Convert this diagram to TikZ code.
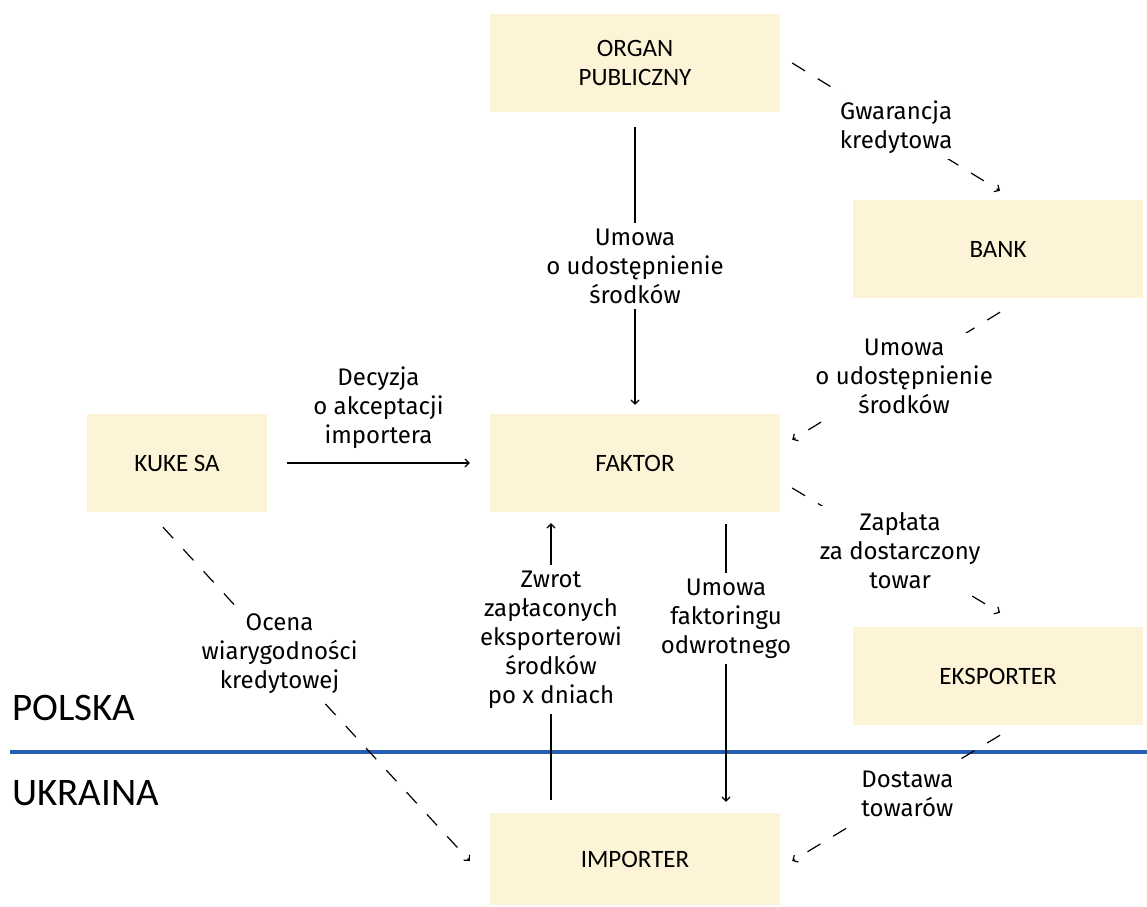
\documentclass[tikz,border=0pt]{standalone}
\usepackage{fontspec}
\usetikzlibrary{arrows.meta}
\newfontfamily\lblfont{Fira Sans}
\newfontfamily\boxfont{Carlito}
\definecolor{boxfill}{HTML}{FDF4D8}
\definecolor{borderblue}{HTML}{285DB4}
\begin{document}
\begin{tikzpicture}[
        x=1pt, y=-1pt,
        box/.style={
            fill=boxfill,
            minimum width=290pt,
            minimum height=98pt,
            align=center,
            font=\boxfont\fontsize{25}{29}\selectfont
        },
        lbl/.style={
            fill=white,
            align=center,
            inner sep=6pt,
            font=\lblfont\fontsize{24}{29}\selectfont
        },
        country/.style={
            anchor=west,
            inner sep=0pt,
            font=\boxfont\fontsize{39}{40}\selectfont
        },
        flow/.style={
            line width=1.2pt,
            -{Straight Barb[length=4pt,width=8pt]}
        },
        dflow/.style={
            flow,
            dash pattern=on 15pt off 15pt
        }
    ]
    \useasboundingbox (0,0) rectangle (1147,906);
    % granica
    \draw[borderblue, line width=3.5pt] (10,752) -- (1147,752);
    \node[country] (pl) at (12,708) {POLSKA};
    \node[country] (ua) at (12,793) {UKRAINA};
    % wezly
    \node[box] (organ) at (635,63) {ORGAN\\PUBLICZNY};
    \node[box] (bank) at (998,249) {BANK};
    \node[box, minimum width=180pt] (kuke) at (177,463) {KUKE SA};
    \node[box] (faktor) at (635,463) {FAKTOR};
    \node[box] (eksporter) at (998,676) {EKSPORTER};
    \node[box, minimum height=92pt] (importer) at (635,859) {IMPORTER};
    % polaczenia
    \draw[flow] ([yshift=-15pt]organ.south) -- ([yshift=9pt]faktor.north)
        node[lbl, pos=0.5] {Umowa\\o udostępnienie\\środków};
    \draw[dflow] ([xshift=12pt]organ.east) -- ([xshift=2pt,yshift=9pt]bank.north)
        node[lbl, midway] {Gwarancja\\kredytowa};
    \draw[dflow] ([xshift=2pt,yshift=-14pt]bank.south) -- ([xshift=12pt,yshift=-26pt]faktor.north east)
        node[lbl, midway, xshift=8pt] {Umowa\\o udostępnienie\\środków};
    \draw[flow] ([xshift=20pt]kuke.east) -- ([xshift=-20pt]faktor.west)
        node[lbl, midway, above, yshift=8pt, fill=none] {Decyzja\\o akceptacji\\importera};
    \draw[dflow] ([xshift=12pt,yshift=-25pt]faktor.east) -- ([xshift=2pt,yshift=14pt]eksporter.north)
        node[lbl, midway, xshift=4pt] {Zapłata\\za dostarczony\\towar};
    \draw[dflow] ([xshift=-14pt,yshift=-15pt]kuke.south) -- ([xshift=-20pt,yshift=-2pt]importer.west)
        node[lbl, pos=0.38] {Ocena\\wiarygodności\\kredytowej};
    \draw[flow] ([xshift=-84pt,yshift=13pt]importer.north) -- ([xshift=-84pt,yshift=-11pt]faktor.south)
        node[lbl, pos=0.58] {Zwrot\\zapłaconych\\eksporterowi\\środków\\po x dniach};
    \draw[flow] ([xshift=91pt,yshift=-12pt]faktor.south) -- ([xshift=91pt,yshift=11pt]importer.north)
        node[lbl, pos=0.34] {Umowa\\faktoringu\\odwrotnego};
    \draw[dflow] ([xshift=2pt,yshift=-10pt]eksporter.south) -- ([xshift=12pt,yshift=-2pt]importer.east)
        node[lbl, pos=0.47, xshift=5pt] {Dostawa\\towarów};
\end{tikzpicture}
\end{document}
